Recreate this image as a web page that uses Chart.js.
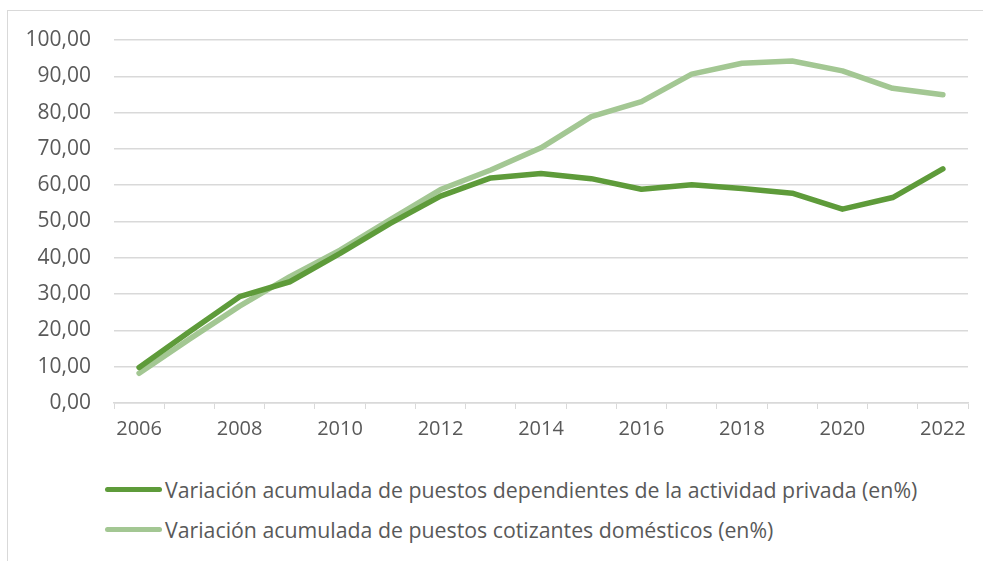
<!DOCTYPE html>
<html lang="es">
<head>
    <meta charset="UTF-8">
    <title>Variación acumulada de puestos</title>
    <script src="https://cdn.jsdelivr.net/npm/chart.js"></script>
    <style>
        html, body { margin: 0; overflow: hidden; }
        body { position: relative; width: 983px; height: 561px; background: #fff; font-family: "Open Sans", sans-serif; }
        #frame { position: absolute; left: 7px; top: 10px; width: 976px; height: 551px; border-top: 1px solid #d9d9d9; border-left: 1px solid #d9d9d9; }
        #wrap { position: absolute; left: 0; top: 0; width: 983px; height: 460px; }
        #legend { position: absolute; left: 105px; top: 469px; color: #595959; font-size: 21.3px; }
        .item { display: flex; align-items: center; height: 40px; white-space: nowrap; }
        .swatch { width: 57px; height: 5px; border-radius: 3px; margin-right: 3px; }
    </style>
</head>
<body>
    <div id="frame"></div>
    <div id="wrap"><canvas id="lineChart"></canvas></div>
    <div id="legend"></div>
    <script>
        const years = ['2006', '2007', '2008', '2009', '2010', '2011', '2012', '2013', '2014',
                       '2015', '2016', '2017', '2018', '2019', '2020', '2021', '2022'];
        const privada = [9.8, 19.6, 29.3, 33.4, 41.2, 49.5, 57.0, 62.0, 63.2,
                         61.8, 58.9, 60.1, 59.1, 57.8, 53.4, 56.6, 64.5];
        const domesticos = [8.2, 17.6, 26.7, 34.8, 42.1, 50.5, 58.8, 64.2, 70.3,
                            78.9, 83.0, 90.6, 93.6, 94.2, 91.5, 86.7, 84.9];
        const seriesNames = [
            'Variación acumulada de puestos dependientes de la actividad privada (en%)',
            'Variación acumulada de puestos cotizantes domésticos (en%)'
        ];
        const seriesColors = ['#5e9b3a', '#a3c793'];

        const gray = '#d9d9d9';
        const textColor = '#595959';

        const ctx = document.getElementById('lineChart').getContext('2d');
        const chart = new Chart(ctx, {
            type: 'line',
            data: {
                labels: years,
                datasets: [
                    { label: seriesNames[0], data: privada, borderColor: seriesColors[0], order: 0 },
                    { label: seriesNames[1], data: domesticos, borderColor: seriesColors[1], order: 1 }
                ]
            },
            options: {
                responsive: true,
                maintainAspectRatio: false,
                animation: false,
                layout: { padding: { left: 0, right: 15, top: 40, bottom: 0 } },
                elements: {
                    line: { borderWidth: 5.5, tension: 0, borderCapStyle: 'round', borderJoinStyle: 'round' },
                    point: { radius: 0 }
                },
                plugins: {
                    legend: { display: false },
                    tooltip: { enabled: false }
                },
                scales: {
                    x: {
                        offset: true,
                        grid: { drawOnChartArea: false, drawTicks: true, tickLength: 6, color: gray, offset: true },
                        border: { color: gray, width: 1.5 },
                        ticks: {
                            autoSkip: false,
                            maxRotation: 0,
                            padding: 8,
                            color: textColor,
                            font: { family: 'Open Sans', size: 20 },
                            callback: (v, i) => (i % 2 === 0 ? years[i] : '')
                        },
                        afterFit: (axis) => { axis.height = 57; }
                    },
                    y: {
                        min: 0,
                        max: 100,
                        grid: { drawTicks: false, color: gray, lineWidth: 1.5 },
                        border: { display: false },
                        ticks: {
                            stepSize: 10,
                            padding: 23,
                            color: textColor,
                            font: { family: 'Open Sans', size: 21 },
                            callback: (v) => v.toFixed(2).replace('.', ',')
                        },
                        afterFit: (axis) => { axis.width = 114; }
                    }
                }
            }
        });

        // legend drawn as html so both rows start at the same x
        const legendBox = document.getElementById('legend');
        chart.data.datasets.forEach((ds) => {
            const row = document.createElement('div');
            row.className = 'item';
            const sw = document.createElement('span');
            sw.className = 'swatch';
            sw.style.background = ds.borderColor;
            const txt = document.createElement('span');
            txt.textContent = ds.label;
            row.appendChild(sw);
            row.appendChild(txt);
            legendBox.appendChild(row);
        });
    </script>
</body>
</html>
